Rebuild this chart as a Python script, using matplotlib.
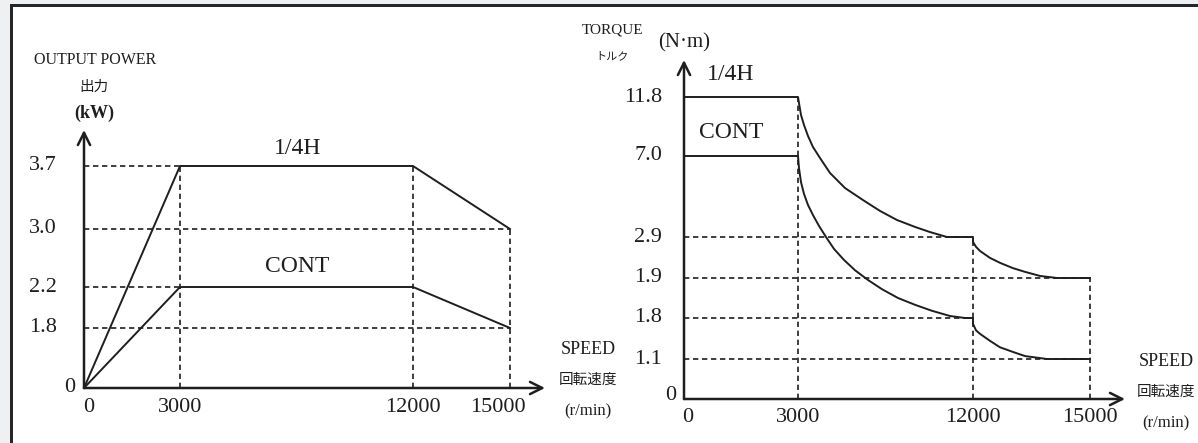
import numpy as np
import matplotlib
matplotlib.use('Agg')
import matplotlib.pyplot as plt
from matplotlib.patches import Rectangle

# ---------------- data ----------------
speed_ticks = [0, 3000, 12000, 15000]
speed_labels = ['0', '3000', '12000', '15000']
power_ticks = [0, 1.8, 2.2, 3.0, 3.7]
power_labels = ['0', '1.8', '2.2', '3.0', '3.7']
torque_ticks = [0, 1.1, 1.8, 1.9, 2.9, 7.0, 11.8]
torque_labels = ['0', '1.1', '1.8', '1.9', '2.9', '7.0', '11.8']

power_speed = [0, 3000, 12000, 15000]
power_14h = [0, 3.7, 3.7, 3.0]
power_cont = [0, 2.2, 2.2, 1.8]

torque_14h_speed = [0, 3000, 3051, 3154, 3309, 3514, 3771, 4131, 4646, 5417,
                    6343, 7217, 8091, 9017, 9789, 10663, 12000,
                    12000, 12077, 12179, 12436, 12692, 13026, 13333, 13718,
                    14154, 15000]
torque_14h = [11.8, 11.8, 11.31, 10.34, 9.52, 8.63, 7.73, 6.90, 6.14, 5.38,
              4.77, 4.22, 3.76, 3.41, 3.15, 2.9, 2.9,
              2.78, 2.66, 2.56, 2.39, 2.27, 2.14, 2.05, 1.95,
              1.9, 1.9]
torque_cont_speed = [0, 3000, 3051, 3154, 3309, 3514, 3771, 4080, 4440, 4851,
                     5366, 5931, 6600, 7320, 8143, 9017, 9891, 10817, 11589,
                     12000, 12000, 12077, 12179, 12436, 12692, 13026, 13333,
                     13897, 15000]
torque_cont = [7.0, 7.0, 6.39, 5.68, 5.08, 4.52, 4.01, 3.46, 2.9, 2.61,
               2.34, 2.09, 1.895, 1.872, 1.85, 1.833, 1.818, 1.805, 1.80,
               1.8, 1.70, 1.59, 1.53, 1.41, 1.30, 1.22, 1.15,
               1.1, 1.1]

# ---------------- layout ----------------
W, H = 1198, 443
INK = '#1e1e1e'
plt.rcParams['font.family'] = ['Liberation Serif', 'Noto Sans CJK JP', 'DejaVu Sans']

fig = plt.figure(figsize=(W / 100, H / 100), dpi=100)
fig.patch.set_facecolor('#eff0f2')


def fx(x):
    return x / W


def fy(y):
    return 1 - y / H


fig.add_artist(Rectangle((fx(12), 0), 1 - fx(12), fy(6), transform=fig.transFigure,
                         facecolor='white', edgecolor='none', zorder=0))
fig.add_artist(Rectangle((fx(10), fy(7)), 1 - fx(10), 3 / H, transform=fig.transFigure,
                         facecolor='#262626', edgecolor='none', zorder=1))
fig.add_artist(Rectangle((fx(10), 0), 3 / W, fy(4), transform=fig.transFigure,
                         facecolor='#262626', edgecolor='none', zorder=1))


def piecewise(knots_d, knots_p):
    d = np.asarray(knots_d, float)
    p = np.asarray(knots_p, float)

    def mk(a, b):
        def f(v):
            v = np.asarray(v, float)
            out = np.interp(v, a, b)
            hi = (b[-1] - b[-2]) / (a[-1] - a[-2])
            lo = (b[1] - b[0]) / (a[1] - a[0])
            out = np.where(v > a[-1], b[-1] + (v - a[-1]) * hi, out)
            out = np.where(v < a[0], b[0] + (v - a[0]) * lo, out)
            return out
        return f
    return mk(d, p), mk(p, d)


def make_axes(ox, oy, w, h, xknots, xpos, yknots, ypos):
    ax = fig.add_axes([fx(ox), fy(oy), w / W, h / H])
    ax.set_facecolor('none')
    xf, xi = piecewise(xknots, xpos)
    yf, yi = piecewise(yknots, ypos)
    ax.set_xscale('function', functions=(xf, xi))
    ax.set_yscale('function', functions=(yf, yi))
    ax.set_xlim(0, float(xi(w)))
    ax.set_ylim(0, float(yi(h)))
    for s in ax.spines.values():
        s.set_visible(False)
    ax.set_xticks([])
    ax.set_yticks([])
    ax.minorticks_off()
    arrow = dict(arrowstyle='->', lw=1.8, color=INK, shrinkA=0, shrinkB=0,
                 mutation_scale=22)
    ax.annotate('', xy=(1, 0), xytext=(0, 0), xycoords='axes fraction',
                textcoords='axes fraction', arrowprops=arrow)
    ax.annotate('', xy=(0, 1), xytext=(0, 0), xycoords='axes fraction',
                textcoords='axes fraction', arrowprops=arrow)
    return ax


def dashed(ax, xs, ys):
    ax.plot(xs, ys, color=INK, lw=1.2, ls=(0, (3.2, 2.2)), clip_on=False)


def solid(ax, xs, ys):
    ax.plot(xs, ys, color=INK, lw=1.4, clip_on=False, solid_joinstyle='round')


TICK = 16

# ---------------- left: output power ----------------
axL = make_axes(84, 388, 461, 258, speed_ticks, [0, 96, 329, 426],
                power_ticks, [0, 60, 101, 159, 222])
dashed(axL, [0, speed_ticks[1]], [power_14h[1]] * 2)
dashed(axL, [0, speed_ticks[3]], [power_14h[3]] * 2)
dashed(axL, [0, speed_ticks[1]], [power_cont[1]] * 2)
dashed(axL, [0, speed_ticks[3]], [power_cont[3]] * 2)
dashed(axL, [speed_ticks[1]] * 2, [0, power_14h[1]])
dashed(axL, [speed_ticks[2]] * 2, [0, power_14h[2]])
dashed(axL, [speed_ticks[3]] * 2, [0, power_14h[3]])
solid(axL, power_speed, power_14h)
solid(axL, power_speed, power_cont)

for v, lab in zip(power_ticks, power_labels):
    off = (-9, 1) if v == 0 else (-27, 0)
    axL.annotate(lab, xy=(0, v), xytext=off, textcoords='offset pixels',
                 ha='right', va='center', fontsize=TICK, color=INK)
for v, lab, dx in zip(speed_ticks, speed_labels, [5, 0, 0, -12]):
    axL.annotate(lab, xy=(v, 0), xytext=(dx, -19), textcoords='offset pixels',
                 ha='center', va='center', fontsize=TICK, color=INK)

fig.text(fx(95), fy(60), 'OUTPUT POWER', ha='center', va='center', fontsize=11.5, color=INK)
fig.text(fx(94), fy(87), '出力', ha='center', va='center', fontsize=10.5, color=INK)
fig.text(fx(94), fy(113), '(kW)', ha='center', va='center', fontsize=13,
         fontweight='bold', color=INK)
fig.text(fx(298), fy(148), '1/4H', ha='center', va='center', fontsize=17, color=INK)
fig.text(fx(297), fy(266), 'CONT', ha='center', va='center', fontsize=17, color=INK)
fig.text(fx(588), fy(350), 'SPEED', ha='center', va='center', fontsize=13, color=INK)
fig.text(fx(588), fy(380), '回転速度', ha='center', va='center', fontsize=10.5, color=INK)
fig.text(fx(588), fy(411), '(r/min)', ha='center', va='center', fontsize=12, color=INK)

# ---------------- right: torque ----------------
axR = make_axes(684, 399, 441, 339, speed_ticks, [0, 114, 289, 406],
                torque_ticks, [0, 40, 81, 121, 162, 243, 302])
dashed(axR, [speed_ticks[1]] * 2, [0, torque_ticks[6]])
dashed(axR, [speed_ticks[2]] * 2, [0, torque_ticks[4]])
dashed(axR, [speed_ticks[3]] * 2, [0, torque_ticks[3]])
dashed(axR, [0, speed_ticks[2]], [torque_ticks[4]] * 2)
dashed(axR, [0, speed_ticks[3]], [torque_ticks[3]] * 2)
dashed(axR, [0, speed_ticks[2]], [torque_ticks[2]] * 2)
dashed(axR, [0, speed_ticks[3]], [torque_ticks[1]] * 2)
solid(axR, torque_14h_speed, torque_14h)
solid(axR, torque_cont_speed, torque_cont)

for v, lab in zip(torque_ticks, torque_labels):
    off = (-8, 3) if v == 0 else (-22, 0)
    axR.annotate(lab, xy=(0, v), xytext=off, textcoords='offset pixels',
                 ha='right', va='center', fontsize=TICK, color=INK)
for v, lab, dx in zip(speed_ticks, speed_labels, [4, 0, 0, 0]):
    axR.annotate(lab, xy=(v, 0), xytext=(dx, -18), textcoords='offset pixels',
                 ha='center', va='center', fontsize=TICK, color=INK)

fig.text(fx(613), fy(30), 'TORQUE', ha='center', va='center', fontsize=11, color=INK)
fig.text(fx(612), fy(56), 'トルク', ha='center', va='center', fontsize=8, color=INK)
fig.text(fx(684), fy(43), '(N·m)', ha='center', va='center', fontsize=15, color=INK)
fig.text(fx(731), fy(75), '1/4H', ha='center', va='center', fontsize=17, color=INK)
fig.text(fx(731), fy(133), 'CONT', ha='center', va='center', fontsize=17, color=INK)
fig.text(fx(1166), fy(362), 'SPEED', ha='center', va='center', fontsize=13, color=INK)
fig.text(fx(1166), fy(392), '回転速度', ha='center', va='center', fontsize=10.5, color=INK)
fig.text(fx(1166), fy(423), '(r/min)', ha='center', va='center', fontsize=12, color=INK)

fig.savefig('out.png', dpi=100, facecolor=fig.get_facecolor())
